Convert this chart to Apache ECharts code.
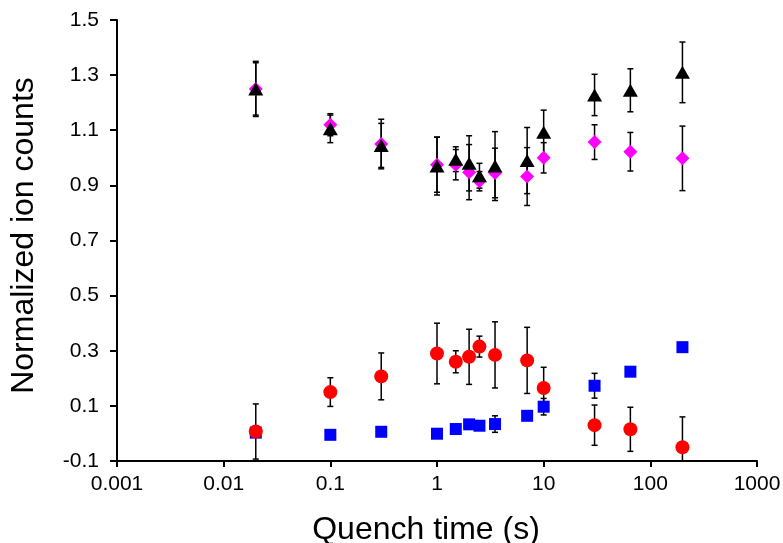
<!DOCTYPE html>
<html>
<head>
<meta charset="utf-8">
<script src="https://cdn.jsdelivr.net/npm/echarts@6/dist/echarts.min.js"></script>
<style>html,body{margin:0;padding:0;background:#fff}#c{width:783px;height:543px}</style>
</head>
<body>
<div id="c"></div>
<script>
const times = [0.02, 0.1, 0.3, 1, 1.5, 2, 2.5, 3.5, 7, 10, 30, 65, 200];
const blackVals = [1.25, 1.105, 1.045, 0.97, 0.995, 0.98, 0.935, 0.97, 0.99, 1.093, 1.228, 1.245, 1.31];
const blackErr  = [0.10, 0.05, 0.08, 0.105, 0.045, 0.10, 0.045, 0.125, 0.12, 0.08, 0.075, 0.078, 0.11];
const magentaVals = [1.25, 1.12, 1.05, 0.975, 0.975, 0.948, 0.915, 0.945, 0.932, 1.0, 1.057, 1.022, 0.998];
const magentaErr  = [0.095, 0.04, 0.09, 0.1, 0.055, 0.1, 0.035, 0.09, 0.105, 0.055, 0.063, 0.07, 0.117];
const redVals = [0.007, 0.15, 0.207, 0.29, 0.26, 0.278, 0.315, 0.285, 0.265, 0.165, 0.03, 0.015, -0.05];
const redErr  = [0.1, 0.052, 0.085, 0.11, 0.04, 0.1, 0.038, 0.12, 0.12, 0.075, 0.073, 0.08, 0.11];
const blueVals = [0.003, -0.005, 0.006, -0.001, 0.016, 0.033, 0.028, 0.034, 0.064, 0.097, 0.173, 0.224, 0.313];
const blueErr  = [0, 0.01, 0, 0, 0, 0, 0, 0.03, 0, 0.03, 0.045, 0, 0];
const xTickLabels = ['0.001', '0.01', '0.1', '1', '10', '100', '1000'];
const yTickLabels = ['-0.1', '0.1', '0.3', '0.5', '0.7', '0.9', '1.1', '1.3', '1.5'];

const FONT = 'Liberation Sans, Arial, sans-serif';

function pts(vals) { return times.map((t, i) => [t, vals[i]]); }
function errData(vals, errs) {
  const out = [];
  times.forEach((t, i) => { if (errs[i] > 0) out.push([t, vals[i] - errs[i], vals[i] + errs[i]]); });
  return out;
}
function errSeries(vals, errs) {
  return {
    type: 'custom', z: 1, clip: true, silent: true,
    data: errData(vals, errs),
    encode: { x: 0, y: [1, 2] },
    renderItem: function (params, api) {
      const lo = api.coord([api.value(0), api.value(1)]);
      const hi = api.coord([api.value(0), api.value(2)]);
      const w = 3;
      const st = { stroke: '#000', lineWidth: 1.5 };
      return {
        type: 'group',
        children: [
          { type: 'line', shape: { x1: lo[0], y1: lo[1], x2: hi[0], y2: hi[1] }, style: st },
          { type: 'line', shape: { x1: lo[0] - w, y1: lo[1], x2: lo[0] + w, y2: lo[1] }, style: st },
          { type: 'line', shape: { x1: hi[0] - w, y1: hi[1], x2: hi[0] + w, y2: hi[1] }, style: st }
        ]
      };
    }
  };
}
function scatter(vals, symbol, size, color) {
  return { type: 'scatter', z: 2, data: pts(vals), symbol: symbol, symbolSize: size,
           itemStyle: { color: color, opacity: 1 }, silent: true };
}

const chart = echarts.init(document.getElementById('c'), null, { renderer: 'canvas' });
chart.setOption({
  animation: false,
  backgroundColor: '#fff',
  grid: { left: 117, right: 26, top: 20, bottom: 82, containLabel: false, outerBoundsMode: 'none' },
  xAxis: {
    type: 'log', logBase: 10, min: 0.001, max: 1000,
    name: 'Quench time (s)', nameLocation: 'middle', nameGap: 53,
    nameTextStyle: { fontFamily: FONT, fontSize: 32, color: '#000', padding: [0, 22, 0, 0] },
    axisLine: { onZero: false, lineStyle: { color: '#000', width: 2 } },
    axisTick: { show: true, inside: false, length: 6, lineStyle: { color: '#000', width: 2 } },
    minorTick: { show: false },
    splitLine: { show: false },
    axisLabel: {
      margin: 13, fontFamily: FONT, fontSize: 21, color: '#000',
      formatter: function (v) {
        const k = Math.round(Math.log10(v)) + 3;
        return xTickLabels[k] !== undefined ? xTickLabels[k] : '';
      }
    }
  },
  yAxis: {
    type: 'value', min: -0.1, max: 1.5, interval: 0.2,
    name: 'Normalized ion counts', nameLocation: 'middle', nameGap: 77, nameRotate: 90,
    nameTextStyle: { fontFamily: FONT, fontSize: 32, color: '#000', padding: [0, 0, 0, 10] },
    axisLine: { show: true, onZero: false, lineStyle: { color: '#000', width: 2 } },
    axisTick: { show: true, inside: false, length: 7, lineStyle: { color: '#000', width: 2 } },
    splitLine: { show: false },
    axisLabel: {
      margin: 18, fontFamily: FONT, fontSize: 21, color: '#000',
      formatter: function (v) {
        const k = Math.round((v + 0.1) / 0.2);
        return yTickLabels[k] !== undefined ? yTickLabels[k] : '';
      }
    }
  },
  series: [
    errSeries(blueVals, blueErr),
    errSeries(redVals, redErr),
    errSeries(magentaVals, magentaErr),
    errSeries(blackVals, blackErr),
    scatter(blueVals, 'rect', 12, '#0000FF'),
    scatter(redVals, 'circle', 14, '#FF0000'),
    scatter(magentaVals, 'diamond', 14, '#FF00FF'),
    scatter(blackVals, 'triangle', [15, 13], '#000000')
  ]
});
</script>
</body>
</html>
